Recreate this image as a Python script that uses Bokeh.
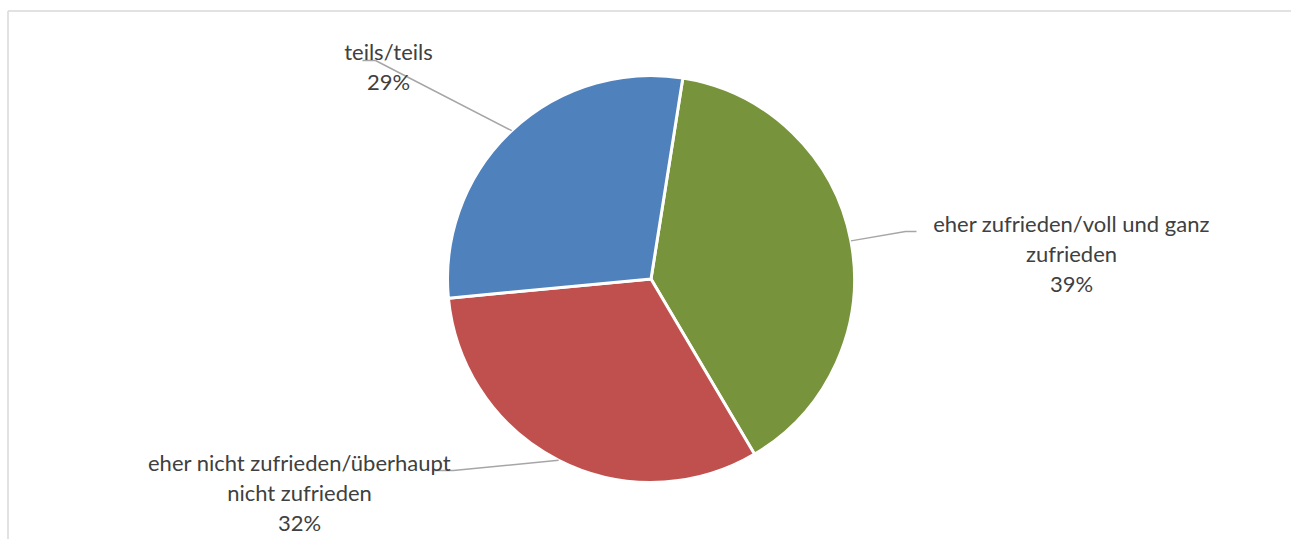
import numpy as np
from bokeh.plotting import figure
from bokeh.models import Range1d
from bokeh.core.properties import value
from bokeh.embed import file_html
from bokeh.resources import INLINE

# ---- data ----
categories = ["eher zufrieden/voll und ganz\nzufrieden",
              "eher nicht zufrieden/überhaupt\nnicht zufrieden",
              "teils/teils"]
shares = [39, 32, 29]
pct_labels = ["39%", "32%", "29%"]
colors = ["#77933C", "#C0504D", "#4F81BD"]

# ---- layout ----
W, H = 1291, 539
cx, cy, R = 650.5, H - 278.5, 203.5
start_deg = 9.0  # clockwise from 12 o'clock

# label anchors (center x, first line middle y in screen px) and leader elbows
label_anchor = [(1071, 223), (299, 462), (388, 51)]
elbow_pts = [[(905, 231), (916, 231)], [(453, 470), (433, 470)], [(375, 60), (362, 60)]]
line_gap = 29.8
font = "Lato"
font_px = 22

p = figure(width=W, height=H, output_backend="svg", toolbar_location=None,
           x_range=Range1d(0, W), y_range=Range1d(0, H), min_border=0)
p.axis.visible = False
p.grid.visible = False
p.outline_line_color = None
p.background_fill_color = "white"
p.border_fill_color = "white"

# chart frame (extends beyond the window on right and bottom)
p.line([7.5, W + 20], [H - 10.5, H - 10.5], line_color="#D9D9D9", line_width=1.5)
p.line([7.5, 7.5], [H - 10.5, -20], line_color="#D9D9D9", line_width=1.5)

vals = np.array(shares, dtype=float)
cum = np.concatenate([[0], np.cumsum(vals)]) / vals.sum() * 360.0
a0 = start_deg + cum[:-1]   # clockwise from top
a1 = start_deg + cum[1:]
start_math = np.radians(90 - a1)
end_math = np.radians(90 - a0)
p.wedge(x=cx, y=cy, radius=R, start_angle=start_math, end_angle=end_math,
        direction="anticlock", fill_color=colors, line_color="white", line_width=3)

for i, (name, pct) in enumerate(zip(categories, pct_labels)):
    mid = np.radians(90 - (a0[i] + a1[i]) / 2)
    sx, sy = cx + R * np.cos(mid), cy + R * np.sin(mid)
    xs = [sx] + [e[0] for e in elbow_pts[i]]
    ys = [sy] + [H - e[1] for e in elbow_pts[i]]
    p.line(xs, ys, line_color="#A6A6A6", line_width=1.5)
    lines = name.split("\n") + [pct]
    ax, ay = label_anchor[i]
    p.text(x=[ax] * len(lines), y=[H - (ay + k * line_gap) for k in range(len(lines))],
           text=lines, text_align="center", text_baseline="middle",
           text_font=value(font), text_font_size=f"{font_px}px", text_color="#404040")

open("out.html", "w").write(file_html(p, INLINE))
